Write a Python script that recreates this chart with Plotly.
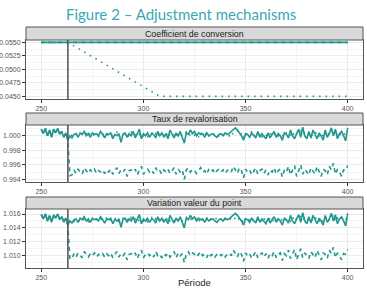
import plotly.graph_objects as go

periods = list(range(250, 401))
t_break = 263

# --- Coefficient de conversion ---
coef_solid = [0.0550] * 151
coef_dash = [0.0550] * 151
coef_dot_after = [0.05478, 0.05456, 0.05433, 0.05411, 0.05389, 0.05367, 0.05344, 0.05322, 0.05300,
                  0.05278, 0.05256, 0.05233, 0.05211, 0.05189, 0.05167, 0.05144, 0.05122, 0.05100,
                  0.05078, 0.05056, 0.05033, 0.05011, 0.04989, 0.04967, 0.04944, 0.04922, 0.04900,
                  0.04878, 0.04856, 0.04833, 0.04811, 0.04789, 0.04767, 0.04744, 0.04722, 0.04700,
                  0.04678, 0.04656, 0.04633, 0.04611, 0.04589, 0.04567, 0.04544, 0.04522, 0.04500] + [0.0450] * 92

# --- Taux de revalorisation ---
taux_solid = [1.0009, 1.0003, 1.0010, 1.0000, 1.0008, 0.9998, 1.0009, 1.0004, 1.0010, 1.0002, 1.0006, 0.9998, 1.0004,
              0.9994,
              1.0000, 0.9997, 1.0002, 1.0003, 0.9998, 1.0004, 1.0002, 1.0006, 1.0000, 1.0003, 0.9998, 1.0004, 1.0002, 1.0003, 1.0000, 1.0006, 1.0002,
              0.9997, 1.0003, 1.0002, 1.0004, 0.9996, 1.0002, 1.0000, 1.0003, 0.9991, 1.0002, 1.0004, 0.9998, 1.0003, 1.0000, 1.0006, 0.9997, 1.0002, 1.0009, 0.9996, 1.0003,
              1.0000, 1.0004, 0.9998, 1.0003, 1.0002, 0.9997, 1.0006, 1.0000, 1.0004, 0.9998, 1.0003, 0.9996, 1.0008, 1.0002, 0.9997, 1.0004, 1.0000, 1.0006, 0.9997, 0.9990,
              1.0004, 1.0002, 1.0008, 1.0003, 1.0006, 1.0000, 1.0004, 1.0002, 1.0003, 0.9998, 1.0004, 1.0000, 1.0002, 1.0003, 1.0000, 0.9998, 1.0002, 1.0003, 1.0000, 1.0004,
              1.0002, 1.0003, 1.0006, 1.0009, 1.0011, 1.0008, 1.0004, 1.0000, 0.9994, 1.0003, 1.0002, 0.9998, 1.0004, 1.0000, 0.9997, 1.0006, 0.9998, 1.0003, 1.0000, 0.9996,
              1.0004, 0.9997, 1.0002, 1.0006, 0.9998, 1.0003, 1.0000, 0.9994, 1.0004, 1.0002, 0.9997, 1.0008, 1.0000, 0.9996, 1.0003, 1.0009, 0.9998, 1.0012, 1.0000, 0.9996,
              1.0006, 0.9997, 1.0008, 1.0002, 0.9996, 1.0004, 1.0000, 0.9994, 1.0008, 0.9998, 1.0003, 1.0011, 1.0000, 1.0009, 0.9996, 1.0003, 1.0006, 1.0000, 0.9993, 1.0011]
taux_dot_after = [1.0002, 1.0001, 0.9999, 1.0003, 1.0002, 1.0000, 1.0004, 1.0001, 1.0003, 0.9999, 1.0004, 1.0000, 1.0002, 1.0003, 0.9999, 1.0002, 1.0003,
                  1.0001, 1.0004, 0.9999, 1.0002, 1.0000, 1.0003, 1.0005, 0.9998, 1.0001, 1.0004, 1.0000, 1.0002, 0.9999, 1.0005, 1.0001, 1.0003, 0.9998, 1.0002, 1.0004, 1.0000,
                  1.0003, 0.9999, 1.0002, 1.0005, 1.0000, 1.0003, 0.9998, 1.0004, 1.0001, 1.0002, 0.9999, 1.0006, 1.0000, 1.0003, 1.0001, 0.9997, 1.0004, 1.0002, 1.0000, 1.0001,
                  1.0005, 1.0000, 1.0002, 1.0004, 1.0001, 1.0003, 0.9998, 1.0005, 1.0000, 1.0002, 1.0004, 0.9999, 1.0003, 1.0001, 1.0002, 1.0004, 1.0000, 1.0003, 1.0001, 1.0002,
                  1.0003, 1.0000, 1.0005, 1.0002, 1.0004, 1.0007, 1.0001, 1.0003, 0.9997, 1.0004, 1.0000, 1.0002, 1.0005, 0.9999, 1.0003, 1.0001, 1.0004, 0.9998, 1.0003, 1.0001,
                  1.0000, 1.0004, 0.9999, 1.0002, 1.0005, 1.0000, 1.0003, 1.0001, 0.9998, 1.0004, 1.0002, 1.0000, 1.0006, 0.9999, 1.0003, 1.0002, 1.0007, 1.0001, 1.0004, 1.0000,
                  1.0002, 1.0005, 0.9999, 1.0003, 1.0006, 1.0000, 1.0004, 0.9998, 1.0003, 1.0007, 1.0001, 1.0002, 1.0009, 0.9999, 1.0004, 1.0000, 1.0005, 1.0002, 1.0003, 1.0001]
taux_dash_after = [0.9945,
                   0.9946, 0.9953, 0.9948, 0.9954, 0.9950, 0.9947, 0.9956, 0.9952, 0.9948, 0.9953, 0.9950, 0.9954, 0.9948, 0.9952, 0.9950, 0.9953,
                   0.9948, 0.9953, 0.9950, 0.9954, 0.9947, 0.9952, 0.9956, 0.9948, 0.9953, 0.9950, 0.9954, 0.9944, 0.9952, 0.9953, 0.9950, 0.9954, 0.9946, 0.9953, 0.9958, 0.9947,
                   0.9952, 0.9954, 0.9950, 0.9953, 0.9948, 0.9956, 0.9950, 0.9952, 0.9947, 0.9953, 0.9950, 0.9954, 0.9948, 0.9952, 0.9956, 0.9947, 0.9954, 0.9950, 0.9953, 0.9940,
                   0.9953, 0.9956, 0.9950, 0.9954, 0.9952, 0.9948, 0.9953, 0.9956, 0.9950, 0.9952, 0.9947, 0.9954, 0.9950, 0.9953, 0.9948, 0.9952, 0.9954, 0.9950, 0.9953, 0.9948,
                   0.9952, 0.9954, 0.9950, 0.9958, 0.9953, 0.9948, 0.9956, 0.9952, 0.9942, 0.9954, 0.9950, 0.9953, 0.9946, 0.9952, 0.9956, 0.9947, 0.9952, 0.9954, 0.9948, 0.9953,
                   0.9946, 0.9953, 0.9950, 0.9956, 0.9947, 0.9952, 0.9954, 0.9943, 0.9953, 0.9950, 0.9958, 0.9946, 0.9952, 0.9959, 0.9944, 0.9953, 0.9960, 0.9947, 0.9954, 0.9950,
                   0.9946, 0.9956, 0.9952, 0.9947, 0.9958, 0.9950, 0.9944, 0.9954, 0.9952, 0.9946, 0.9958, 0.9953, 0.9962, 0.9947, 0.9954, 0.9950, 0.9944, 0.9953, 0.9952, 0.9959]

# --- Variation valeur du point ---
point_solid = [1.0159, 1.0153, 1.0160, 1.0150, 1.0158, 1.0148, 1.0159, 1.0154, 1.0160, 1.0152, 1.0156, 1.0148, 1.0154,
               1.0144,
               1.0150, 1.0147, 1.0152, 1.0153, 1.0148, 1.0154, 1.0152, 1.0156, 1.0150, 1.0153, 1.0148, 1.0154, 1.0152, 1.0153, 1.0150, 1.0156, 1.0152,
               1.0147, 1.0153, 1.0152, 1.0154, 1.0146, 1.0152, 1.0150, 1.0153, 1.0141, 1.0152, 1.0154, 1.0148, 1.0153, 1.0150, 1.0156, 1.0147, 1.0152, 1.0159, 1.0146, 1.0153,
               1.0150, 1.0154, 1.0148, 1.0153, 1.0152, 1.0147, 1.0156, 1.0150, 1.0154, 1.0148, 1.0153, 1.0146, 1.0158, 1.0152, 1.0147, 1.0154, 1.0150, 1.0156, 1.0147, 1.0140,
               1.0154, 1.0152, 1.0158, 1.0153, 1.0156, 1.0150, 1.0154, 1.0152, 1.0153, 1.0148, 1.0154, 1.0150, 1.0152, 1.0153, 1.0150, 1.0148, 1.0152, 1.0153, 1.0150, 1.0154,
               1.0152, 1.0153, 1.0156, 1.0159, 1.0161, 1.0158, 1.0154, 1.0150, 1.0144, 1.0153, 1.0152, 1.0148, 1.0154, 1.0150, 1.0147, 1.0156, 1.0148, 1.0153, 1.0150, 1.0146,
               1.0154, 1.0147, 1.0152, 1.0156, 1.0148, 1.0153, 1.0150, 1.0144, 1.0154, 1.0152, 1.0147, 1.0158, 1.0150, 1.0146, 1.0153, 1.0159, 1.0148, 1.0162, 1.0150, 1.0146,
               1.0156, 1.0147, 1.0158, 1.0152, 1.0146, 1.0154, 1.0150, 1.0144, 1.0158, 1.0148, 1.0153, 1.0161, 1.0150, 1.0159, 1.0146, 1.0153, 1.0156, 1.0150, 1.0143, 1.0161]
point_dot_after = [1.0152, 1.0151, 1.0149, 1.0153, 1.0152, 1.0150, 1.0154, 1.0151, 1.0153, 1.0149, 1.0154, 1.0150, 1.0152, 1.0153, 1.0149, 1.0152, 1.0153,
                   1.0151, 1.0154, 1.0149, 1.0152, 1.0150, 1.0153, 1.0155, 1.0148, 1.0151, 1.0154, 1.0150, 1.0152, 1.0149, 1.0155, 1.0151, 1.0153, 1.0148, 1.0152, 1.0154, 1.0150,
                   1.0153, 1.0149, 1.0152, 1.0155, 1.0150, 1.0153, 1.0148, 1.0154, 1.0151, 1.0152, 1.0149, 1.0156, 1.0150, 1.0153, 1.0151, 1.0147, 1.0154, 1.0152, 1.0150, 1.0151,
                   1.0155, 1.0150, 1.0152, 1.0154, 1.0151, 1.0153, 1.0148, 1.0155, 1.0150, 1.0152, 1.0154, 1.0149, 1.0153, 1.0151, 1.0152, 1.0154, 1.0150, 1.0153, 1.0151, 1.0152,
                   1.0153, 1.0150, 1.0155, 1.0152, 1.0154, 1.0157, 1.0151, 1.0153, 1.0147, 1.0154, 1.0150, 1.0152, 1.0155, 1.0149, 1.0153, 1.0151, 1.0154, 1.0148, 1.0153, 1.0151,
                   1.0150, 1.0154, 1.0149, 1.0152, 1.0155, 1.0150, 1.0153, 1.0151, 1.0148, 1.0154, 1.0152, 1.0150, 1.0156, 1.0149, 1.0153, 1.0152, 1.0157, 1.0151, 1.0154, 1.0150,
                   1.0152, 1.0155, 1.0149, 1.0153, 1.0156, 1.0150, 1.0154, 1.0148, 1.0153, 1.0157, 1.0151, 1.0152, 1.0159, 1.0149, 1.0154, 1.0150, 1.0155, 1.0152, 1.0153, 1.0151]
point_dash_after = [1.0095,
                    1.0096, 1.0103, 1.0098, 1.0104, 1.0100, 1.0097, 1.0106, 1.0102, 1.0098, 1.0103, 1.0100, 1.0104, 1.0098, 1.0102, 1.0100, 1.0103,
                    1.0098, 1.0103, 1.0100, 1.0104, 1.0097, 1.0102, 1.0106, 1.0098, 1.0103, 1.0100, 1.0104, 1.0094, 1.0102, 1.0103, 1.0100, 1.0104, 1.0096, 1.0103, 1.0108, 1.0097,
                    1.0102, 1.0104, 1.0100, 1.0103, 1.0098, 1.0106, 1.0100, 1.0102, 1.0097, 1.0103, 1.0100, 1.0104, 1.0098, 1.0102, 1.0106, 1.0097, 1.0104, 1.0100, 1.0103, 1.0090,
                    1.0103, 1.0106, 1.0100, 1.0104, 1.0102, 1.0098, 1.0103, 1.0106, 1.0100, 1.0102, 1.0097, 1.0104, 1.0100, 1.0103, 1.0098, 1.0102, 1.0104, 1.0100, 1.0103, 1.0098,
                    1.0102, 1.0104, 1.0100, 1.0108, 1.0103, 1.0098, 1.0106, 1.0102, 1.0092, 1.0104, 1.0100, 1.0103, 1.0096, 1.0102, 1.0106, 1.0097, 1.0102, 1.0104, 1.0098, 1.0103,
                    1.0096, 1.0103, 1.0100, 1.0106, 1.0097, 1.0102, 1.0104, 1.0093, 1.0103, 1.0100, 1.0108, 1.0096, 1.0102, 1.0109, 1.0094, 1.0103, 1.0110, 1.0097, 1.0104, 1.0100,
                    1.0096, 1.0106, 1.0102, 1.0097, 1.0108, 1.0100, 1.0094, 1.0104, 1.0102, 1.0096, 1.0108, 1.0103, 1.0112, 1.0097, 1.0104, 1.0100, 1.0094, 1.0103, 1.0102, 1.0109]

strip_titles = ["Coefficient de conversion", "Taux de revalorisation", "Variation valeur du point"]
x_ticks = [250, 300, 350, 400]
y1_ticks = [0.0450, 0.0475, 0.0500, 0.0525, 0.0550]
y2_ticks = [0.994, 0.996, 0.998, 1.000]
y3_ticks = [1.010, 1.012, 1.014, 1.016]

TEAL = "#1f978f"
n_before = t_break - 250 + 1

fig = go.Figure()

panels = [
    (coef_solid, coef_dash[n_before:], coef_dot_after, "x", "y"),
    (taux_solid, taux_dash_after, taux_dot_after, "x2", "y2"),
    (point_solid, point_dash_after, point_dot_after, "x3", "y3"),
]
for solid, dash_after, dot_after, xa, ya in panels:
    base = solid[:n_before]
    fig.add_trace(go.Scatter(x=periods, y=solid, mode="lines", xaxis=xa, yaxis=ya,
                             line=dict(color=TEAL, width=1.6), showlegend=False))
    fig.add_trace(go.Scatter(x=periods, y=base + dash_after, mode="lines", xaxis=xa, yaxis=ya,
                             line=dict(color=TEAL, width=1.6, dash="4px,4px"), showlegend=False))
    fig.add_trace(go.Scatter(x=periods, y=base + dot_after, mode="lines", xaxis=xa, yaxis=ya,
                             line=dict(color=TEAL, width=1.6, dash="1.5px,5px"), showlegend=False))

H = 228.0
dom1 = [(268 - 99) / H, 1.0]
dom2 = [(268 - 182) / H, (268 - 125) / H]
dom3 = [0.0, (268 - 209) / H]

def xaxis(anchor):
    return dict(range=[242.5, 407.5], tickvals=x_ticks, ticks="outside", ticklen=3,
                tickcolor="#333333", tickfont=dict(family="Liberation Sans", size=7, color="#555555"),
                showgrid=True, gridcolor="#ebebeb", gridwidth=1,
                minor=dict(dtick=25, showgrid=True, gridcolor="#f4f4f4", gridwidth=0.6, ticks=""),
                showline=True, mirror=True, linecolor="#555555", linewidth=1,
                zeroline=False, anchor=anchor, automargin=False)

def yaxis(dom, rng, ticks, fmt, anchor, minor_dt):
    return dict(domain=dom, range=rng, tickvals=ticks, tickformat=fmt, ticks="outside", ticklen=3,
                tickcolor="#333333", tickfont=dict(family="Liberation Sans", size=7, color="#555555"),
                showgrid=True, gridcolor="#ebebeb", gridwidth=1,
                minor=dict(dtick=minor_dt, showgrid=True, gridcolor="#f4f4f4", gridwidth=0.6, ticks=""),
                showline=True, mirror=True, linecolor="#555555", linewidth=1,
                zeroline=False, anchor=anchor, automargin=False)

strip_specs = [(1.0, 1.0 + 13 / H), ((268 - 125) / H, (268 - 113) / H), ((268 - 209) / H, (268 - 197) / H)]
shapes = []
annotations = []
for (y0, y1), title in zip(strip_specs, strip_titles):
    shapes.append(dict(type="rect", xref="paper", yref="paper", x0=0, x1=1, y0=y0, y1=y1,
                       fillcolor="#d9d9d9", line=dict(color="#555555", width=1), layer="above"))
    annotations.append(dict(text=title, xref="paper", yref="paper", x=0.5, y=(y0 + y1) / 2,
                            xanchor="center", yanchor="middle", showarrow=False,
                            font=dict(family="Liberation Sans", size=8.8, color="#1a1a1a")))
for xa, ya in [("x", "y"), ("x2", "y2"), ("x3", "y3")]:
    shapes.append(dict(type="line", xref=xa, yref=ya + " domain", x0=t_break, x1=t_break, y0=0, y1=1,
                       line=dict(color="#5a5a5a", width=1.6)))

annotations.append(dict(text="Figure 2 – Adjustment mechanisms", xref="paper", yref="paper",
                        x=(181 - 26) / 337, y=(268 - 14) / H, xanchor="center", yanchor="middle",
                        showarrow=False, font=dict(family="Lato", size=15, color="#3aa8b3")))
annotations.append(dict(text="Période", xref="paper", yref="paper", x=0.5, y=(268 - 282) / H,
                        xanchor="center", yanchor="middle", showarrow=False,
                        font=dict(family="Liberation Sans", size=9.5, color="#222222")))

fig.update_layout(
    width=367, height=294, margin=dict(l=26, r=4, t=40, b=26),
    paper_bgcolor="white", plot_bgcolor="white",
    xaxis=xaxis("y"), xaxis2=xaxis("y2"), xaxis3=xaxis("y3"),
    yaxis=yaxis(dom1, [0.04452, 0.05543], y1_ticks, ".4f", "x", 0.00125),
    yaxis2=yaxis(dom2, [0.99363, 1.00149], y2_ticks, ".3f", "x2", 0.001),
    yaxis3=yaxis(dom3, [1.00823, 1.01672], y3_ticks, ".3f", "x3", 0.001),
    shapes=shapes, annotations=annotations,
)

fig.write_html("out.html")
